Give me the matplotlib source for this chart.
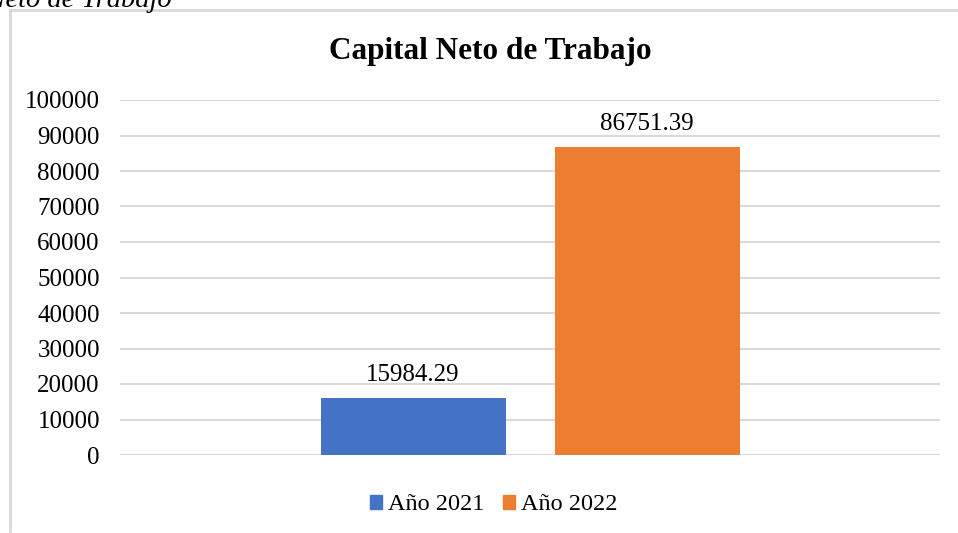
import matplotlib.pyplot as plt
from matplotlib.lines import Line2D
import matplotlib.patches as mpatches

plt.rcParams['font.family'] = ['Liberation Serif', 'DejaVu Serif']

series = ["Año 2021", "Año 2022"]
values = [15984.29, 86751.39]
colors = ["#4472C4", "#ED7D31"]
yticks = [0, 10000, 20000, 30000, 40000, 50000, 60000, 70000, 80000, 90000, 100000]

W, H = 958, 533
fig = plt.figure(figsize=(W / 100, H / 100), dpi=100)

# plot area in pixel terms
x0, x1 = 120, 940
y_top, y_bot = 100, 455
ax = fig.add_axes([x0 / W, 1 - y_bot / H, (x1 - x0) / W, (y_bot - y_top) / H])

bar_w = 185 / 820
gap = 49 / 820
offsets = [-(bar_w + gap) / 2, (bar_w + gap) / 2]
for off, v, c, name in zip(offsets, values, colors, series):
    ax.bar(off, v, width=bar_w, color=c, label=name, zorder=3)
    ax.annotate(f"{v:.2f}", (off, v), xytext=(0, 9), textcoords="offset points",
                ha="center", va="bottom", fontsize=18, color="#000000")

ax.set_xlim(-0.5, 0.5)
ax.set_ylim(0, 100000)
ax.set_yticks(yticks)
ax.set_yticklabels([str(t) for t in yticks], fontsize=18)
ax.set_xticks([])
ax.tick_params(axis="y", length=0, pad=14.5)
ax.grid(axis="y", color="#d9d9d9", linewidth=1.5, zorder=0)
for s in ax.spines.values():
    s.set_visible(False)

fig.text(490 / W, 1 - 52 / H, "Capital Neto de Trabajo", ha="center", va="center",
         fontsize=22.5, fontweight="bold")

# caption above the chart frame, mostly cut off
fig.text(172 / W, 1 - 7 / H, "Capital Neto de Trabajo", ha="right", va="baseline",
         fontsize=20.5, fontstyle="italic")

# chart frame (left and top edges)
fig.add_artist(Line2D([10 / W, 10 / W], [1 - 10 / H, 1 - 531 / H], color="#d9d9d9", linewidth=2))
fig.add_artist(Line2D([10 / W, 1.0], [1 - 10 / H, 1 - 10 / H], color="#d9d9d9", linewidth=2))

handles = [mpatches.Patch(color=c, label=n) for c, n in zip(colors, series)]
fig.legend(handles=handles, loc="center", bbox_to_anchor=(494 / W, 1 - 505 / H), ncol=2,
           frameon=False, fontsize=17.5, handlelength=0.5, handleheight=0.5,
           handletextpad=0.25, columnspacing=0.75)

fig.savefig("out.png", dpi=100)
